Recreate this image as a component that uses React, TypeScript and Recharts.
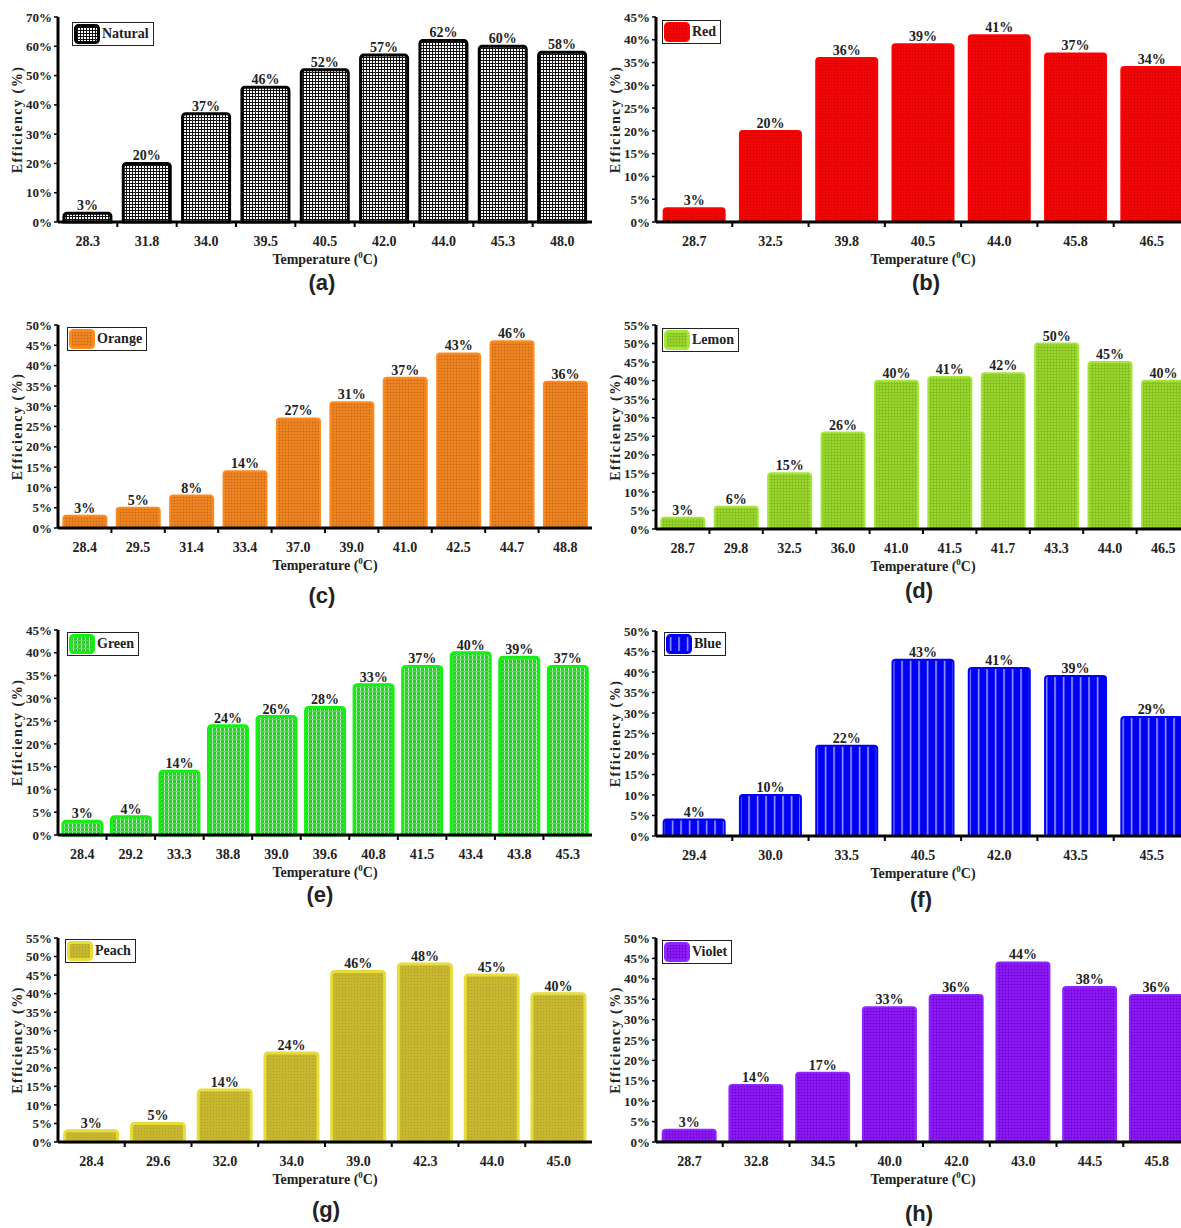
import React from 'react';
import { BarChart, Bar, XAxis, YAxis, LabelList } from 'recharts';

// ---------- data ----------
const naturalTemps = ['28.3', '31.8', '34.0', '39.5', '40.5', '42.0', '44.0', '45.3', '48.0'];
const naturalEff = [3, 20, 37, 46, 52, 57, 62, 60, 58];
const naturalTicks = [0, 10, 20, 30, 40, 50, 60, 70];

const redTemps = ['28.7', '32.5', '39.8', '40.5', '44.0', '45.8', '46.5'];
const redEff = [3, 20, 36, 39, 41, 37, 34];
const redTicks = [0, 5, 10, 15, 20, 25, 30, 35, 40, 45];

const orangeTemps = ['28.4', '29.5', '31.4', '33.4', '37.0', '39.0', '41.0', '42.5', '44.7', '48.8'];
const orangeEff = [3, 5, 8, 14, 27, 31, 37, 43, 46, 36];
const orangeTicks = [0, 5, 10, 15, 20, 25, 30, 35, 40, 45, 50];

const lemonTemps = ['28.7', '29.8', '32.5', '36.0', '41.0', '41.5', '41.7', '43.3', '44.0', '46.5'];
const lemonEff = [3, 6, 15, 26, 40, 41, 42, 50, 45, 40];
const lemonTicks = [0, 5, 10, 15, 20, 25, 30, 35, 40, 45, 50, 55];

const greenTemps = ['28.4', '29.2', '33.3', '38.8', '39.0', '39.6', '40.8', '41.5', '43.4', '43.8', '45.3'];
const greenEff = [3, 4, 14, 24, 26, 28, 33, 37, 40, 39, 37];
const greenTicks = [0, 5, 10, 15, 20, 25, 30, 35, 40, 45];

const blueTemps = ['29.4', '30.0', '33.5', '40.5', '42.0', '43.5', '45.5'];
const blueEff = [4, 10, 22, 43, 41, 39, 29];
const blueTicks = [0, 5, 10, 15, 20, 25, 30, 35, 40, 45, 50];

const peachTemps = ['28.4', '29.6', '32.0', '34.0', '39.0', '42.3', '44.0', '45.0'];
const peachEff = [3, 5, 14, 24, 46, 48, 45, 40];
const peachTicks = [0, 5, 10, 15, 20, 25, 30, 35, 40, 45, 50, 55];

const violetTemps = ['28.7', '32.8', '34.5', '40.0', '42.0', '43.0', '44.5', '45.8'];
const violetEff = [3, 14, 17, 33, 36, 44, 38, 36];
const violetTicks = [0, 5, 10, 15, 20, 25, 30, 35, 40, 45, 50];

// ---------- layout / style ----------
const SERIF = '"Liberation Serif", "DejaVu Serif", serif';
const SANS = '"Liberation Sans Narrow", "Liberation Sans", "Noto Sans", sans-serif';

const panels = [
  { key: 'natural', name: 'Natural', temps: naturalTemps, eff: naturalEff, ticks: naturalTicks, col: 0, plotTop: 17, plotBottom: 222, stroke: '#000000', sw: 3, letter: '(a)', lx: 322, ly: 283, legDx: 14, legDy: 5 },
  { key: 'red', name: 'Red', temps: redTemps, eff: redEff, ticks: redTicks, col: 1, plotTop: 17, plotBottom: 222, stroke: '#ff0000', sw: 2, letter: '(b)', lx: 926, ly: 283, legDx: 6, legDy: 3 },
  { key: 'orange', name: 'Orange', temps: orangeTemps, eff: orangeEff, ticks: orangeTicks, col: 0, plotTop: 325, plotBottom: 528, stroke: '#ff8a1c', sw: 2, letter: '(c)', lx: 322, ly: 596, legDx: 9, legDy: 2 },
  { key: 'lemon', name: 'Lemon', temps: lemonTemps, eff: lemonEff, ticks: lemonTicks, col: 1, plotTop: 325, plotBottom: 529, stroke: '#a4e63c', sw: 2, letter: '(d)', lx: 919, ly: 591, legDx: 6, legDy: 3 },
  { key: 'green', name: 'Green', temps: greenTemps, eff: greenEff, ticks: greenTicks, col: 0, plotTop: 630, plotBottom: 835, stroke: '#12f012', sw: 3, letter: '(e)', lx: 320, ly: 895, legDx: 9, legDy: 2 },
  { key: 'blue', name: 'Blue', temps: blueTemps, eff: blueEff, ticks: blueTicks, col: 1, plotTop: 631, plotBottom: 836, stroke: '#0000ff', sw: 2, letter: '(f)', lx: 921, ly: 900, legDx: 8, legDy: 1 },
  { key: 'peach', name: 'Peach', temps: peachTemps, eff: peachEff, ticks: peachTicks, col: 0, plotTop: 938, plotBottom: 1142, stroke: '#e6dc3a', sw: 3, letter: '(g)', lx: 326, ly: 1210, legDx: 7, legDy: 1 },
  { key: 'violet', name: 'Violet', temps: violetTemps, eff: violetEff, ticks: violetTicks, col: 1, plotTop: 938, plotBottom: 1142, stroke: '#9024ff', sw: 2, letter: '(h)', lx: 919, ly: 1214, legDx: 6, legDy: 2 },
];

const COLS = [
  { x: 0, plotLeft: 58, plotRight: 592 },
  { x: 600, plotLeft: 656, plotRight: 1190 },
];
const W = 600;
const TOPPAD = 17;
const XAXIS_H = 78;

function Patterns() {
  return (
    <svg width={0} height={0} style={{ position: 'absolute' }}>
      <defs>
        <pattern id="pat-natural" patternUnits="userSpaceOnUse" width={3} height={3}>
          <rect width={3} height={3} fill="#ffffff" />
          <rect width={3} height={1} fill="#111" />
          <rect width={1} height={3} fill="#111" />
        </pattern>
        <pattern id="pat-red" patternUnits="userSpaceOnUse" width={3} height={3}>
          <rect width={3} height={3} fill="#ee0606" />
          <rect width={1} height={1} fill="#c80000" />
        </pattern>
        <pattern id="pat-orange" patternUnits="userSpaceOnUse" width={3} height={3}>
          <rect width={3} height={3} fill="#e87e1c" />
          <rect width={1} height={1} fill="#c4621a" />
          <rect x={1.5} y={1.5} width={1} height={1} fill="#f09a40" />
        </pattern>
        <pattern id="pat-lemon" patternUnits="userSpaceOnUse" width={3} height={3}>
          <rect width={3} height={3} fill="#9cd830" />
          <rect width={3} height={1} fill="#86c022" />
          <rect width={1} height={3} fill="#86c022" />
        </pattern>
        <pattern id="pat-green" patternUnits="userSpaceOnUse" width={4} height={4}>
          <rect width={4} height={4} fill="#2ccc2c" />
          <rect width={1} height={4} fill="#b8f5b8" />
          <rect y={2} width={4} height={1} fill="#5ad85a" />
        </pattern>
        <pattern id="pat-blue" patternUnits="userSpaceOnUse" width={8.5} height={4}>
          <rect width={8.5} height={4} fill="#0000f2" />
          <rect x={4} width={1.2} height={4} fill="#c8c8ff" />
        </pattern>
        <pattern id="pat-peach" patternUnits="userSpaceOnUse" width={3} height={3}>
          <rect width={3} height={3} fill="#c6b630" />
          <rect width={1} height={1} fill="#ada024" />
        </pattern>
        <pattern id="pat-violet" patternUnits="userSpaceOnUse" width={3} height={3}>
          <rect width={3} height={3} fill="#8410ee" />
          <rect width={1} height={1} fill="#6a00c4" />
          <rect x={1.5} y={1.5} width={1} height={1} fill="#9a40f8" />
        </pattern>
      </defs>
    </svg>
  );
}

function makeXTick(n: number, plotWidth: number) {
  const band = plotWidth / n;
  return function XTick(props: any) {
    const { x, y, payload, index } = props;
    return (
      <g>
        {index > 0 && (
          <line x1={x - band / 2} x2={x - band / 2} y1={y} y2={y + 5} stroke="#000" strokeWidth={2} />
        )}
        <text x={x} y={y + 24} textAnchor="middle" fontFamily={SERIF} fontWeight="bold" fontSize={14} fill="#222">
          {payload.value}
        </text>
      </g>
    );
  };
}

function YLabel(props: any) {
  const vb = props.viewBox || { x: 0, y: 0, width: 58, height: 205 };
  const cx = vb.x + vb.width - 41;
  const cy = vb.y + vb.height / 2;
  return (
    <text
      x={cx}
      y={cy}
      transform={`rotate(-90 ${cx} ${cy})`}
      textAnchor="middle"
      dominantBaseline="central"
      fontFamily={SERIF}
      fontWeight="bold"
      fontSize={14}
      letterSpacing={1.5}
      fill="#222"
    >
      Efficiency (%)
    </text>
  );
}

function Panel({ p }: { p: any }) {
  const col = COLS[p.col];
  const data = p.temps.map((t: string, i: number) => ({ temp: t, eff: p.eff[i] }));
  const plotH = p.plotBottom - p.plotTop;
  const H = TOPPAD + plotH + XAXIS_H;
  const yLeftW = col.plotLeft - col.x;
  const marginRight = col.x + W - col.plotRight;
  const plotWidth = col.plotRight - col.plotLeft;
  const max = p.ticks[p.ticks.length - 1];
  const XTick = makeXTick(p.temps.length, plotWidth);
  const top = p.plotTop - TOPPAD;
  const plotCenterX = (col.plotLeft + col.plotRight) / 2 - col.x;
  const axisLine = { stroke: '#000', strokeWidth: 3 };

  return (
    <>
      <div style={{ position: 'absolute', left: col.x, top, width: W, height: H }}>
        <BarChart
          width={W}
          height={H}
          data={data}
          margin={{ top: TOPPAD, right: marginRight, left: 0, bottom: 0 }}
          barCategoryGap="10%"
        >
          <XAxis
            xAxisId="b"
            dataKey="temp"
            height={XAXIS_H}
            interval={0}
            axisLine={axisLine}
            tickLine={false}
            tickSize={0}
            tickMargin={0}
            tick={<XTick />}
          />
          <XAxis xAxisId="t" dataKey="temp" orientation="top" height={0} axisLine={axisLine} tick={false} tickLine={false} />
          <YAxis
            yAxisId="l"
            width={yLeftW}
            domain={[0, max]}
            ticks={p.ticks}
            interval={0}
            axisLine={axisLine}
            tickLine={{ stroke: '#000', strokeWidth: 1.5 }}
            tickSize={4}
            tickMargin={2}
            tickFormatter={(v: number) => `${v}%`}
            tick={{ fontFamily: SERIF, fontWeight: 'bold', fontSize: 13, fill: '#222' }}
            label={<YLabel />}
          />
          <YAxis yAxisId="r" orientation="right" width={0} domain={[0, max]} axisLine={axisLine} tick={false} tickLine={false} />
          <Bar
            dataKey="eff"
            xAxisId="b"
            yAxisId="l"
            fill={`url(#pat-${p.key})`}
            stroke={p.stroke}
            strokeWidth={p.sw}
            radius={[3, 3, 0, 0]}
            isAnimationActive={false}
          >
            <LabelList
              dataKey="eff"
              position="top"
              offset={3}
              formatter={(v: any) => `${v}%`}
              style={{ fontFamily: SERIF, fontWeight: 'bold', fontSize: 14, fill: '#222' }}
            />
          </Bar>
        </BarChart>
        {/* legend */}
        <div
          style={{
            position: 'absolute',
            left: yLeftW + p.legDx,
            top: TOPPAD + p.legDy,
            display: 'flex',
            alignItems: 'center',
            background: '#fff',
            border: '1px solid #222',
            padding: '1px 4px 1px 1px',
            height: 20,
          }}
        >
          <svg width={26} height={20} style={{ display: 'block' }}>
            <rect x={1.5} y={1.5} width={23} height={17} rx={3} fill={`url(#pat-${p.key})`} stroke={p.stroke} strokeWidth={3} />
          </svg>
          <span style={{ fontFamily: SERIF, fontWeight: 'bold', fontSize: 14, color: '#222', marginLeft: 2, lineHeight: '20px' }}>
            {p.name}
          </span>
        </div>
        {/* x-axis title */}
        <div
          style={{
            position: 'absolute',
            left: plotCenterX - 100,
            width: 200,
            top: TOPPAD + plotH + 29,
            textAlign: 'center',
            fontFamily: SERIF,
            fontWeight: 'bold',
            fontSize: 14,
            color: '#222',
            lineHeight: '18px',
          }}
        >
          Temperature (<sup style={{ fontSize: 9, verticalAlign: 'super', lineHeight: 0 }}>0</sup>C)
        </div>
      </div>
      <div
        style={{
          position: 'absolute',
          left: p.lx - 30,
          width: 60,
          top: p.ly - 15,
          textAlign: 'center',
          fontFamily: SANS,
          fontWeight: 'bold',
          fontSize: 22,
          color: '#222',
          lineHeight: '30px',
        }}
      >
        {p.letter}
      </div>
    </>
  );
}

export default function App() {
  return (
    <div
      style={{
        position: 'absolute',
        left: 0,
        top: 0,
        width: 1181,
        height: 1228,
        overflow: 'hidden',
        background: '#fff',
      }}
    >
      <Patterns />
      {panels.map((p) => (
        <Panel key={p.key} p={p} />
      ))}
    </div>
  );
}
